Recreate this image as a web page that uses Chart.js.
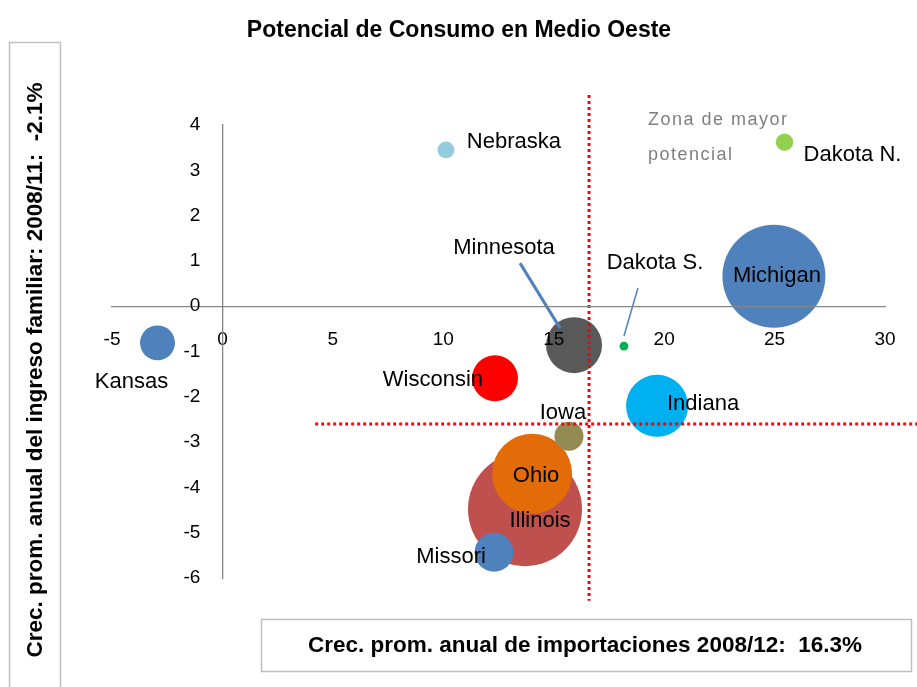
<!DOCTYPE html>
<html>
<head>
<meta charset="utf-8">
<title>Potencial de Consumo en Medio Oeste</title>
<script src="https://cdn.jsdelivr.net/npm/chart.js@4.4.0/dist/chart.umd.min.js"></script>
<style>
  html, body { margin: 0; padding: 0; background: #fff; }
  #grafico { display: block; }
</style>
</head>
<body>
<canvas id="grafico" width="917" height="687"></canvas>
<script>
// datos
const estados = ['Kansas', 'Nebraska', 'Dakota N.', 'Michigan', 'Minnesota', 'Dakota S.',
                 'Wisconsin', 'Indiana', 'Illinois', 'Ohio', 'Iowa', 'Missori'];
const crecImportaciones = [-2.94, 10.12, 25.45, 24.97, 15.92, 18.18, 12.34, 19.68, 13.70, 14.02, 15.69, 12.30];
const crecIngreso = [-0.81, 3.45, 3.62, 0.66, -0.86, -0.88, -1.59, -2.20, -4.48, -3.70, -2.87, -5.43];
const tamano = [9.4, 2.2, 2.3, 81.6, 24.1, 0.6, 16.3, 29.6, 100, 49.2, 6.5, 11.7];
const xTicks = [-5, 0, 5, 10, 15, 20, 25, 30];
const yTicks = [-6, -5, -4, -3, -2, -1, 0, 1, 2, 3, 4];
const refImportaciones = 16.6;
const refIngreso = -2.6;

const colores = ['#4F81BD', '#93CDDD', '#92D050', '#4F81BD', '#595959', '#00B050',
                 '#FF0000', '#00B0F0', '#C0504D', '#E36C09', '#948A54', '#4F81BD'];

// posicion de cada etiqueta respecto al centro de su burbuja (px)
const despl = {
  'Kansas': [-26, 39], 'Nebraska': [68, -8], 'Dakota N.': [68, 13], 'Michigan': [3, 0],
  'Minnesota': [-70, -97], 'Dakota S.': [31, -83], 'Wisconsin': [-62, 2], 'Indiana': [46, -2],
  'Illinois': [15, 12], 'Ohio': [4, 2], 'Iowa': [-6, -23], 'Missori': [-43, 5]
};
// lineas guia (desde, hasta) respecto al centro de la burbuja
const guias = {
  'Minnesota': [[-54, -82], [-14, -17], 3],
  'Dakota S.': [[14, -58], [0, -10], 1.5]
};

const RMAX = 57;
const fuente = '"Liberation Sans", Arial, sans-serif';

const puntos = estados.map((e, i) => ({
  x: crecImportaciones[i],
  y: crecIngreso[i],
  r: RMAX * Math.sqrt(tamano[i] / 100)
}));

const decoracion = {
  id: 'decoracion',
  beforeDraw(chart) {
    const ctx = chart.ctx;
    // separar las etiquetas del eje y de la linea del eje
    chart.scales.y.getLabelItems().forEach(it => { it.options.translation[0] -= 22; });

    ctx.save();
    ctx.fillStyle = '#fff';
    ctx.fillRect(0, 0, chart.width, chart.height);

    // titulo
    ctx.fillStyle = '#000';
    ctx.font = 'bold 23px ' + fuente;
    ctx.textAlign = 'center';
    ctx.textBaseline = 'middle';
    ctx.fillText('Potencial de Consumo en Medio Oeste', 459, 31);

    // caja titulo eje y
    ctx.font = 'bold 22.5px ' + fuente;
    ctx.strokeStyle = '#BFBFBF';
    ctx.lineWidth = 1.5;
    ctx.strokeRect(9.5, 42.5, 51, 680);
    ctx.save();
    ctx.translate(36, 370);
    ctx.rotate(-Math.PI / 2);
    ctx.fillText('Crec. prom. anual del ingreso familiar: 2008/11:  -2.1%', 0, 0);
    ctx.restore();

    // caja titulo eje x
    ctx.strokeRect(261.5, 619.5, 650, 52);
    ctx.fillText('Crec. prom. anual de importaciones 2008/12:  16.3%', 585, 646);
    ctx.restore();
  },
  afterDatasetsDraw(chart) {
    const ctx = chart.ctx;
    const xs = chart.scales.x, ys = chart.scales.y;
    const meta = chart.getDatasetMeta(0);
    ctx.save();

    // lineas de referencia punteadas
    ctx.strokeStyle = '#FF0000';
    ctx.lineWidth = 3;
    ctx.setLineDash([3, 3]);
    ctx.beginPath();
    ctx.moveTo(xs.getPixelForValue(refImportaciones), ys.getPixelForValue(4.66));
    ctx.lineTo(xs.getPixelForValue(refImportaciones), ys.getPixelForValue(-6.5));
    ctx.moveTo(xs.getPixelForValue(4.2), ys.getPixelForValue(refIngreso));
    ctx.lineTo(xs.getPixelForValue(32.2), ys.getPixelForValue(refIngreso));
    ctx.stroke();
    ctx.setLineDash([]);

    // lineas guia
    ctx.strokeStyle = '#4F81BD';
    Object.keys(guias).forEach(nombre => {
      const p = meta.data[estados.indexOf(nombre)];
      const g = guias[nombre];
      ctx.lineWidth = g[2];
      ctx.beginPath();
      ctx.moveTo(p.x + g[0][0], p.y + g[0][1]);
      ctx.lineTo(p.x + g[1][0], p.y + g[1][1]);
      ctx.stroke();
    });

    // etiquetas
    ctx.fillStyle = '#000';
    ctx.font = '22px ' + fuente;
    ctx.textAlign = 'center';
    ctx.textBaseline = 'middle';
    estados.forEach((nombre, i) => {
      const p = meta.data[i];
      const d = despl[nombre];
      ctx.fillText(nombre, p.x + d[0], p.y + d[1]);
    });

    // zona de mayor potencial
    ctx.fillStyle = '#7F7F7F';
    ctx.font = '18px ' + fuente;
    ctx.textAlign = 'left';
    ctx.letterSpacing = '1.5px';
    ctx.fillText('Zona de mayor', 648, 120);
    ctx.fillText('potencial', 648, 155);
    ctx.restore();
  }
};

function fijarTicks(lista) {
  return scale => { scale.ticks = lista.map(v => ({ value: v })); };
}

new Chart(document.getElementById('grafico'), {
  type: 'bubble',
  data: {
    datasets: [{
      data: puntos,
      backgroundColor: colores,
      borderWidth: 0,
      hoverBorderWidth: 0,
      clip: false
    }]
  },
  options: {
    responsive: false,
    animation: false,
    events: [],
    layout: { autoPadding: false, padding: { top: 125, left: 112, right: 32, bottom: 109 } },
    plugins: {
      legend: { display: false },
      tooltip: { enabled: false }
    },
    scales: {
      x: {
        type: 'linear',
        min: -5,
        max: 30,
        position: { y: 0 },
        afterBuildTicks: fijarTicks(xTicks),
        grid: { display: false },
        border: { display: true, color: '#868686', width: 1.3, z: 1 },
        ticks: { padding: 14, z: 1, color: '#000', font: { family: fuente, size: 19 } }
      },
      y: {
        type: 'linear',
        min: -6,
        max: 4,
        position: { x: 0 },
        afterBuildTicks: fijarTicks(yTicks),
        grid: { display: false },
        border: { display: true, color: '#868686', width: 1.3, z: 1 },
        ticks: { padding: 0, z: 1, color: '#000', font: { family: fuente, size: 19 } }
      }
    }
  },
  plugins: [decoracion]
});
</script>
</body>
</html>
